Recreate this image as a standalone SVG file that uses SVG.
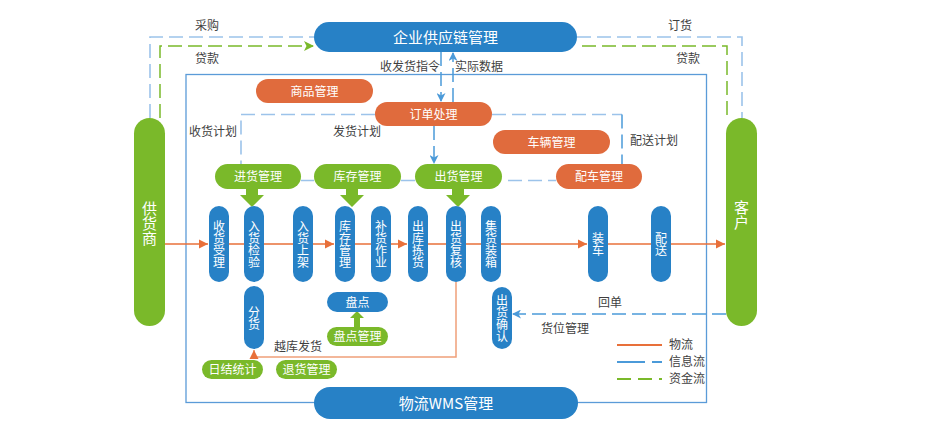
<svg xmlns="http://www.w3.org/2000/svg" width="938" height="447" viewBox="0 0 938 447">
<defs>
<style>
text{font-family:"Noto Sans CJK SC","Noto Sans",sans-serif;}
.lbl{font-size:12px;fill:#3f3f3f;}
.wt{font-size:12px;fill:#ffffff;text-anchor:middle;}
.vt{font-size:12px;fill:#ffffff;text-anchor:middle;writing-mode:vertical-rl;}
.big{font-size:15px;fill:#ffffff;text-anchor:middle;}
.vbig{font-size:15px;fill:#ffffff;text-anchor:middle;writing-mode:vertical-rl;}
.blue{fill:#2781c6;}
.green{fill:#7ab92a;}
.orange{fill:#e06b3d;}
.info{fill:none;stroke:#4b9ad9;stroke-width:1.5;stroke-dasharray:14 6;}
.infoL{fill:none;stroke:#9cc3ea;stroke-width:1.6;stroke-dasharray:14 6;}
.cash{fill:none;stroke:#7ab92a;stroke-width:1.5;stroke-dasharray:14 6;}
.solidB{fill:none;stroke:#9cc3ea;stroke-width:1.5;}
.flow{fill:none;stroke:#e8703a;stroke-width:1.5;}
</style>
<marker id="aB" markerUnits="userSpaceOnUse" markerWidth="9" markerHeight="9" refX="8" refY="4.5" orient="auto"><path d="M0,0 L9,4.5 L0,9 L2.5,4.5 z" fill="#4b9ad9"/></marker>
<marker id="aG" markerUnits="userSpaceOnUse" markerWidth="10" markerHeight="10" refX="9" refY="5" orient="auto"><path d="M0,0 L10,5 L0,10 L2.5,5 z" fill="#7ab92a"/></marker>
<marker id="aO" markerUnits="userSpaceOnUse" markerWidth="10" markerHeight="10" refX="9" refY="5" orient="auto"><path d="M0,0.5 L9,5 L0,9.5 z" fill="#e8703a"/></marker>
</defs>
<rect width="938" height="447" fill="#ffffff"/>

<g id="connectors">
  <rect x="186" y="74.5" width="520.5" height="328" fill="none" stroke="#5b9bd8" stroke-width="1.3"/>
  <path class="infoL" d="M150,118 V37 H314"/>
  <path class="cash" d="M160,118 V46 H313" marker-end="url(#aG)"/>
  <path class="infoL" d="M577,37 H742 V118"/>
  <path class="cash" d="M582,46 H727 V120"/>
  <path class="info" d="M441,52 V101" marker-end="url(#aB)"/>
  <path class="info" d="M453,102 V53" marker-end="url(#aB)"/>
  <path class="infoL" d="M375,114.5 H241 V164"/>
  <path class="info" d="M434,126 V163" marker-end="url(#aB)"/>
  <path class="infoL" d="M492,114.5 H622"/>
  <path class="info" d="M622,114.5 V164"/>
  <path class="solidB" d="M301,180.5 H314 M401,180.5 H415"/>
  <path class="infoL" d="M508,180.5 H556"/>
  <path class="flow" d="M165,244 H208" marker-end="url(#aO)"/>
  <path class="flow" d="M229,244 H244 M264,244 H293"/>
  <path class="flow" d="M313,244 H334" marker-end="url(#aO)"/>
  <path class="flow" d="M355,244 H371"/>
  <path class="flow" d="M391,244 H407" marker-end="url(#aO)"/>
  <path class="flow" d="M428,244 H446 M466,244 H481"/>
  <path class="flow" d="M501,244 H587" marker-end="url(#aO)"/>
  <path class="flow" d="M608,244 H651"/>
  <path class="flow" d="M671,244 H725" marker-end="url(#aO)"/>
  <path d="M456,282 V357 H254 V350" fill="none" stroke="#f0a07a" stroke-width="1.5" marker-end="url(#aO)"/>
  <path class="info" d="M726,314 H513" marker-end="url(#aB)"/>
  <path class="green" d="M246,188 H258 V195 H264 L252,207 L240,195 H246 Z"/>
  <path class="green" d="M346,188 H358 V195 H364 L352,207 L340,195 H346 Z"/>
  <path class="green" d="M452,188 H464 V195 H470 L458,207 L446,195 H452 Z"/>
  <path class="green" d="M354,327 V318 H350 L357,311 L364,318 H360 V327 Z"/>
</g>

<g id="labels">
  <text class="lbl" x="207" y="30" text-anchor="middle">采购</text>
  <text class="lbl" x="207" y="63" text-anchor="middle">贷款</text>
  <text class="lbl" x="680" y="30" text-anchor="middle">订货</text>
  <text class="lbl" x="688" y="63" text-anchor="middle">贷款</text>
  <text class="lbl" x="440" y="71" text-anchor="end">收发货指令</text>
  <text class="lbl" x="455" y="71">实际数据</text>
  <text class="lbl" x="213" y="136" text-anchor="middle">收货计划</text>
  <text class="lbl" x="357" y="136" text-anchor="middle">发货计划</text>
  <text class="lbl" x="654" y="145" text-anchor="middle">配送计划</text>
  <text class="lbl" x="298" y="351" text-anchor="middle">越库发货</text>
  <text class="lbl" x="610" y="307" text-anchor="middle">回单</text>
  <text class="lbl" x="565" y="333" text-anchor="middle">货位管理</text>
</g>

<g id="legend">
  <line x1="617" y1="345" x2="662" y2="345" stroke="#e8703a" stroke-width="2"/>
  <line x1="617" y1="362" x2="662" y2="362" stroke="#4b9ad9" stroke-width="2" stroke-dasharray="28 7"/>
  <line x1="617" y1="379" x2="662" y2="379" stroke="#7ab92a" stroke-width="2" stroke-dasharray="14 7"/>
  <text class="lbl" x="669" y="349">物流</text>
  <text class="lbl" x="669" y="366">信息流</text>
  <text class="lbl" x="669" y="383">资金流</text>
</g>

<g id="n-scm"><rect class="blue" x="314" y="22" width="263" height="30" rx="15"/><text class="big" x="445.5" y="42.5">企业供应链管理</text></g>
<g id="n-wms"><rect class="blue" x="314" y="387" width="264" height="32" rx="16"/><text class="big" x="446" y="408.5">物流WMS管理</text></g>

<g id="n-supplier"><rect class="green" x="134" y="118" width="31" height="208" rx="15.5"/><text class="vbig" x="149.5" y="223">供货商</text></g>
<g id="n-customer"><rect class="green" x="726" y="118" width="31" height="208" rx="15.5"/><text class="vbig" x="741.5" y="215">客户</text></g>

<g id="n-goods"><rect class="orange" x="256" y="79" width="117" height="24" rx="12"/><text class="wt" x="314.5" y="95.5">商品管理</text></g>
<g id="n-order"><rect class="orange" x="375" y="102" width="117" height="24" rx="12"/><text class="wt" x="433.5" y="118.5">订单处理</text></g>
<g id="n-vehicle"><rect class="orange" x="493" y="130" width="117" height="24" rx="12"/><text class="wt" x="551.5" y="146.5">车辆管理</text></g>
<g id="n-dispatch"><rect class="orange" x="556" y="164" width="86" height="25" rx="12.5"/><text class="wt" x="599" y="181">配车管理</text></g>

<g id="n-inbound"><rect class="green" x="215" y="164" width="86" height="25" rx="12.5"/><text class="wt" x="258" y="181">进货管理</text></g>
<g id="n-stock"><rect class="green" x="314" y="164" width="87" height="25" rx="12.5"/><text class="wt" x="357.5" y="181">库存管理</text></g>
<g id="n-outbound"><rect class="green" x="415" y="164" width="87" height="25" rx="12.5"/><text class="wt" x="458.5" y="181">出货管理</text></g>

<g id="n-c1"><rect class="blue" x="209" y="206" width="20" height="76" rx="10"/><text class="vt" x="219" y="244">收货受理</text></g>
<g id="n-c2"><rect class="blue" x="244" y="206" width="20" height="76" rx="10"/><text class="vt" x="254" y="244">入货检验</text></g>
<g id="n-c3"><rect class="blue" x="293" y="206" width="20" height="76" rx="10"/><text class="vt" x="303" y="244">入货上架</text></g>
<g id="n-c4"><rect class="blue" x="335" y="206" width="20" height="76" rx="10"/><text class="vt" x="345" y="244">库存管理</text></g>
<g id="n-c5"><rect class="blue" x="371" y="206" width="20" height="76" rx="10"/><text class="vt" x="381" y="244">补货作业</text></g>
<g id="n-c6"><rect class="blue" x="408" y="206" width="20" height="76" rx="10"/><text class="vt" x="418" y="244">出库拣货</text></g>
<g id="n-c7"><rect class="blue" x="446" y="206" width="20" height="76" rx="10"/><text class="vt" x="456" y="244">出货复核</text></g>
<g id="n-c8"><rect class="blue" x="481" y="206" width="20" height="76" rx="10"/><text class="vt" x="491" y="244">集货装箱</text></g>
<g id="n-c9"><rect class="blue" x="588" y="206" width="20" height="76" rx="10"/><text class="vt" x="598" y="244">装车</text></g>
<g id="n-c10"><rect class="blue" x="651" y="206" width="20" height="76" rx="10"/><text class="vt" x="661" y="244">配送</text></g>

<g id="n-split"><rect class="blue" x="244" y="286" width="20" height="63" rx="10"/><text class="vt" x="254" y="318">分货</text></g>
<g id="n-confirm"><rect class="blue" x="492" y="287" width="20" height="62" rx="10"/><text class="vt" x="502" y="318">出货确认</text></g>
<g id="n-count"><rect class="blue" x="327" y="292" width="61" height="20" rx="10"/><text class="wt" x="357.5" y="306.5">盘点</text></g>
<g id="n-countmgr"><rect class="green" x="327" y="327" width="61" height="19" rx="9.5"/><text class="wt" x="357.5" y="341">盘点管理</text></g>
<g id="n-daily"><rect class="green" x="202" y="360" width="61" height="19" rx="9.5"/><text class="wt" x="232.5" y="374">日结统计</text></g>
<g id="n-return"><rect class="green" x="276" y="360" width="61" height="19" rx="9.5"/><text class="wt" x="306.5" y="374">退货管理</text></g>
</svg>
